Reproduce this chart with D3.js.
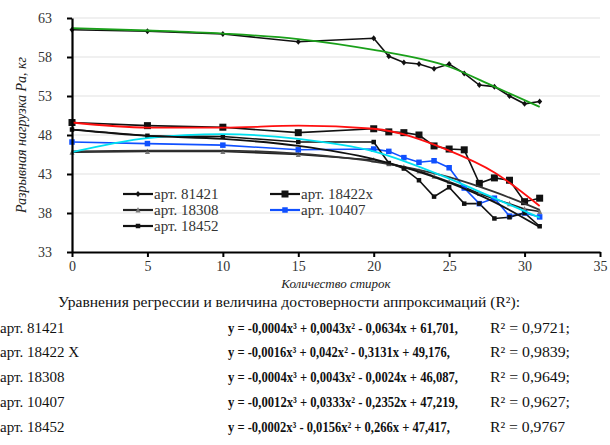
<!DOCTYPE html>
<html><head><meta charset="utf-8">
<script src="https://cdn.jsdelivr.net/npm/d3@7"></script>
<style>body{margin:0;background:#fff}svg{display:block}</style>
</head><body><svg id="c" width="610" height="445"></svg>
<script>
const xData = [0,5,10,15,20,21,22,23,24,25,26,27,28,29,30,31];
const s81421 = [61.5,61.3,60.95,59.95,60.4,58.1,57.3,57.1,56.5,57.1,55.9,54.4,54.2,53.0,52.0,52.3];
const s18422x = [49.6,49.2,49.0,48.3,48.8,48.4,48.3,48.0,46.6,46.2,46.1,41.8,42.5,42.2,39.45,39.9];
const s18308 = [45.8,45.9,45.9,45.5,44.8,44.3,43.9,43.4,42.7,42.0,41.3,40.5,39.8,39.2,38.5,38.2];
const s10407 = [47.1,46.9,46.7,46.1,46.2,45.9,45.1,44.5,44.7,43.8,41.2,39.2,39.9,37.6,38.0,37.5];
const s18452 = [48.7,47.9,47.8,47.1,47.1,44.4,43.7,42.2,40.1,41.3,39.2,39.2,37.3,37.45,38.0,36.3];
// trend lines
const trendX = [0,5,10,15,20,25,28,31];
const t81421 = [61.7,61.4,61.0,60.3,58.9,56.75,54.2,51.6];
const t18422x = [49.6,48.95,48.95,49.2,48.8,46.0,43.2,38.9];
const t18308 = [45.9,46.0,46.0,45.6,44.6,42.6,40.7,38.4];
const t10407 = [45.8,47.6,48.1,47.5,45.9,42.4,39.9,37.4];
const t18452 = [48.7,47.9,47.5,46.6,44.9,41.9,39.4,36.2];
const xTicks = [0,5,10,15,20,25,30,35];
const yTicks = [33,38,43,48,53,58,63];
const legendNames = ["арт. 81421","арт. 18422x","арт. 18308","арт. 10407","арт. 18452"];
const eqNames = ["арт. 81421","арт. 18422 X","арт. 18308","арт. 10407","арт. 18452"];
const equations = [
 "y = -0,0004x³ + 0,0043x² - 0,0634x + 61,701,",
 "y = -0,0016x³ + 0,042x² - 0,3131x + 49,176,",
 "y = -0,0004x³ + 0,0043x² - 0,0024x + 46,087,",
 "y = -0,0012x³ + 0,0333x² - 0,2352x + 47,219,",
 "y = -0,0002x³ - 0,0156x² + 0,266x + 47,417,"];
const r2 = ["R² = 0,9721;","R² = 0,9839;","R² = 0,9649;","R² = 0,9627;","R² = 0,9767"];

const FONT = "'Liberation Serif','DejaVu Serif',serif";
const svg = d3.select("#c").attr("font-family",FONT);
const x = d3.scaleLinear().domain([0,35]).range([72,600]);
const y = d3.scaleLinear().domain([33,63]).range([252,18]);

svg.append("g").selectAll("line").data(yTicks.slice(1)).join("line")
 .attr("x1",72).attr("x2",600).attr("y1",d=>y(d)).attr("y2",d=>y(d))
 .attr("stroke","#e2e2e2").attr("stroke-width",1.2);

const line = d3.line().x(d=>x(d[0])).y(d=>y(d[1]));
const curve = d3.line().x(d=>x(d[0])).y(d=>y(d[1])).curve(d3.curveMonotoneX);
function pairs(xs,ys){return xs.map((v,i)=>[v,ys[i]]);}

const series = [
 {v:s81421, t:t81421, col:"#111", tc:"#1aa01a", m:"diamond", ms:5},
 {v:s18422x, t:t18422x, col:"#111", tc:"#ff1010", m:"square", ms:7},
 {v:s18308, t:t18308, col:"#222", tc:"#333", m:"triangle", ms:5, mc:"#777"},
 {v:s10407, t:t10407, col:"#1050ff", tc:"#00e0f0", m:"square", ms:5.5},
 {v:s18452, t:t18452, col:"#111", tc:"#111", m:"square", ms:4.5}
];
series.forEach(s=>{
  svg.append("path").attr("d",line(pairs(xData,s.v))).attr("fill","none")
   .attr("stroke",s.col).attr("stroke-width",1.6);
});
function marker(g,type,cx,cy,size,col){
  if(type==="square") g.append("rect").attr("x",cx-size/2).attr("y",cy-size/2).attr("width",size).attr("height",size).attr("fill",col);
  else if(type==="diamond") g.append("path").attr("d",`M${cx},${cy-size/2-0.5}L${cx+size/2},${cy}L${cx},${cy+size/2+0.5}L${cx-size/2},${cy}Z`).attr("fill",col);
  else g.append("path").attr("d",`M${cx},${cy-size/2-0.5}L${cx+size/2},${cy+size/2}L${cx-size/2},${cy+size/2}Z`).attr("fill",col);
}
series.forEach(s=>{
  const g = svg.append("g");
  xData.forEach((xv,i)=>marker(g,s.m,x(xv),y(s.v[i]),s.ms,s.mc||s.col));
});
series.forEach(s=>{
  svg.append("path").attr("d",curve(pairs(trendX,s.t))).attr("fill","none")
   .attr("stroke",s.tc).attr("stroke-width",1.8);
});

const xa = svg.append("g").attr("transform","translate(0,252)")
 .call(d3.axisBottom(x).tickValues(xTicks).tickSize(5).tickSizeOuter(0));
const ya = svg.append("g").attr("transform","translate(72,0)")
 .call(d3.axisLeft(y).tickValues(yTicks).tickSize(5).tickSizeOuter(0));
[xa,ya].forEach(a=>{a.attr("font-family",FONT);
  a.select(".domain").attr("stroke","#000").attr("stroke-width",2.2);
  a.selectAll(".tick line").attr("stroke","#000").attr("stroke-width",2);
  a.selectAll("text").attr("font-size",14).attr("fill","#333");});
xa.selectAll("text").attr("dy","0.9em").attr("y",6);
ya.selectAll("text").attr("x",-20).attr("dy","0.35em");

svg.append("text").attr("x",336).attr("y",288).attr("text-anchor","middle")
 .attr("font-style","italic").attr("font-size",13).attr("fill","#222").text("Количество стирок");
svg.append("text").attr("transform","translate(26,135) rotate(-90)").attr("text-anchor","middle")
 .attr("font-style","italic").attr("font-size",14).attr("fill","#222").text("Разрывная нагрузка Pa, кг");

const legPos = [[123,194],[270,194],[123,210],[270,210],[123,226]];
[0,1,2,3,4].forEach((si,k)=>{
  const s = series[si]; const [lx,ly] = legPos[k];
  const g = svg.append("g");
  g.append("line").attr("x1",lx).attr("x2",lx+30).attr("y1",ly).attr("y2",ly).attr("stroke",s.col).attr("stroke-width",2.2);
  marker(g,s.m,lx+15,ly,s.ms,s.mc||s.col);
  g.append("text").attr("x",lx+31).attr("y",ly+5).attr("font-size",15).attr("fill","#333").text(legendNames[si]);
});

svg.append("text").attr("x",58).attr("y",307).attr("font-size",15).attr("fill","#111")
 .attr("textLength",462).attr("lengthAdjust","spacingAndGlyphs")
 .text("Уравнения регрессии и величина достоверности аппроксимаций (R²):");
const rowY = [333,357,382,407,432];
eqNames.forEach((n,i)=>{
  svg.append("text").attr("x",0).attr("y",rowY[i]).attr("font-size",15).attr("fill","#111").text(n);
  svg.append("text").attr("x",228).attr("y",rowY[i]).attr("font-size",14).attr("font-weight","bold").attr("fill","#111")
   .attr("textLength",i===1||i===4?222:230).attr("lengthAdjust","spacingAndGlyphs").text(equations[i]);
  svg.append("text").attr("x",490).attr("y",rowY[i]).attr("font-size",15).attr("fill","#111")
   .attr("textLength",i===4?75:80).attr("lengthAdjust","spacingAndGlyphs").text(r2[i]);
});
</script></body></html>
